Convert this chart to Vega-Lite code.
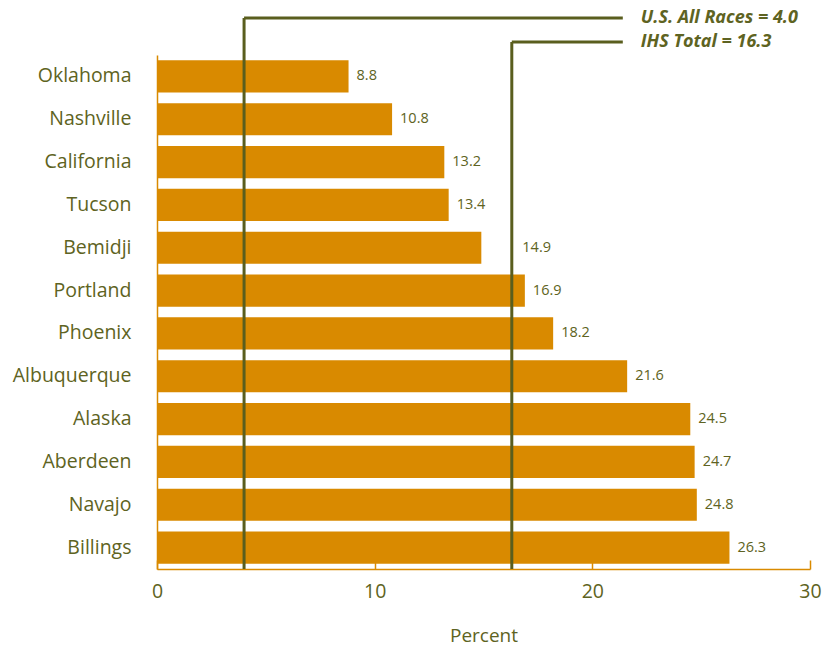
{
  "$schema": "https://vega.github.io/schema/vega-lite/v6.json",
  "width": 653,
  "height": 559,
  "autosize": {"type": "none"},
  "padding": {"left": 157, "top": 10, "right": 24, "bottom": 85},
  "background": "white",
  "config": {
    "view": {"stroke": null},
    "font": "Open Sans",
    "axis": {"labelFont": "Open Sans", "titleFont": "Open Sans", "labelColor": "#5E6322", "titleColor": "#5E6322", "grid": false}
  },
  "datasets": {
    "regions": [
      {"region": "Oklahoma", "value": 8.8},
      {"region": "Nashville", "value": 10.8},
      {"region": "California", "value": 13.2},
      {"region": "Tucson", "value": 13.4},
      {"region": "Bemidji", "value": 14.9},
      {"region": "Portland", "value": 16.9},
      {"region": "Phoenix", "value": 18.2},
      {"region": "Albuquerque", "value": 21.6},
      {"region": "Alaska", "value": 24.5},
      {"region": "Aberdeen", "value": 24.7},
      {"region": "Navajo", "value": 24.8},
      {"region": "Billings", "value": 26.3}
    ],
    "refs": [
      {"label": "U.S. All Races = 4.0", "value": 4.0},
      {"label": "IHS Total = 16.3", "value": 16.3}
    ]
  },
  "layer": [
    {
      "data": {"name": "regions"},
      "layer": [
        {
          "mark": {"type": "bar", "color": "#D98A00"},
          "encoding": {
            "y": {
              "field": "region", "type": "nominal", "sort": null,
              "scale": {"range": [45, 559], "paddingInner": 0.25, "paddingOuter": 0.125},
              "axis": {"title": null, "ticks": false, "domainColor": "#D98A00", "domainWidth": 1.5, "labelFontSize": 19.5, "labelPadding": 26}
            },
            "x": {
              "field": "value", "type": "quantitative",
              "scale": {"domain": [0, 30], "nice": false},
              "axis": {"values": [0, 10, 20, 30], "title": "Percent", "titleFontSize": 19, "titleFontWeight": "normal", "titlePadding": 26,
                       "domainColor": "#D98A00", "domainWidth": 1.5, "tickColor": "#D98A00", "tickSize": -9, "tickWidth": 1.5,
                       "labelFontSize": 19.5, "labelPadding": 22, "labelFlush": false}
            }
          }
        },
        {
          "transform": [{"filter": "datum.region !== 'Bemidji'"}],
          "mark": {"type": "text", "align": "left", "baseline": "middle", "dx": 8, "fontSize": 14.5, "color": "#5E6322"},
          "encoding": {
            "y": {"field": "region", "type": "nominal", "sort": null},
            "x": {"field": "value", "type": "quantitative"},
            "text": {"field": "value", "type": "quantitative", "format": ".1f"}
          }
        },
        {
          "transform": [{"filter": "datum.region === 'Bemidji'"}],
          "mark": {"type": "text", "align": "left", "baseline": "middle", "dx": 41, "fontSize": 14.5, "color": "#5E6322"},
          "encoding": {
            "y": {"field": "region", "type": "nominal", "sort": null},
            "x": {"field": "value", "type": "quantitative"},
            "text": {"field": "value", "type": "quantitative", "format": ".1f"}
          }
        }
      ]
    },
    {
      "data": {"name": "refs"},
      "layer": [
        {
          "mark": {"type": "rule", "color": "#5A5E1E", "strokeWidth": 3},
          "encoding": {
            "x": {"field": "value", "type": "quantitative"},
            "y": {"field": "label", "type": "nominal", "sort": null, "scale": {"type": "point", "range": [8, 32], "padding": 0}, "axis": null},
            "y2": {"value": {"expr": "height"}}
          }
        },
        {
          "mark": {"type": "rule", "color": "#5A5E1E", "strokeWidth": 3},
          "encoding": {
            "x": {"field": "value", "type": "quantitative"},
            "x2": {"datum": 21.4},
            "y": {"field": "label", "type": "nominal", "sort": null}
          }
        },
        {
          "mark": {"type": "text", "align": "left", "baseline": "middle", "dx": 18, "fontSize": 18, "fontStyle": "italic", "fontWeight": "bold", "color": "#5E6322"},
          "encoding": {
            "x": {"datum": 21.4},
            "y": {"field": "label", "type": "nominal", "sort": null},
            "text": {"field": "label"}
          }
        }
      ]
    }
  ],
  "resolve": {"scale": {"y": "independent"}}
}
